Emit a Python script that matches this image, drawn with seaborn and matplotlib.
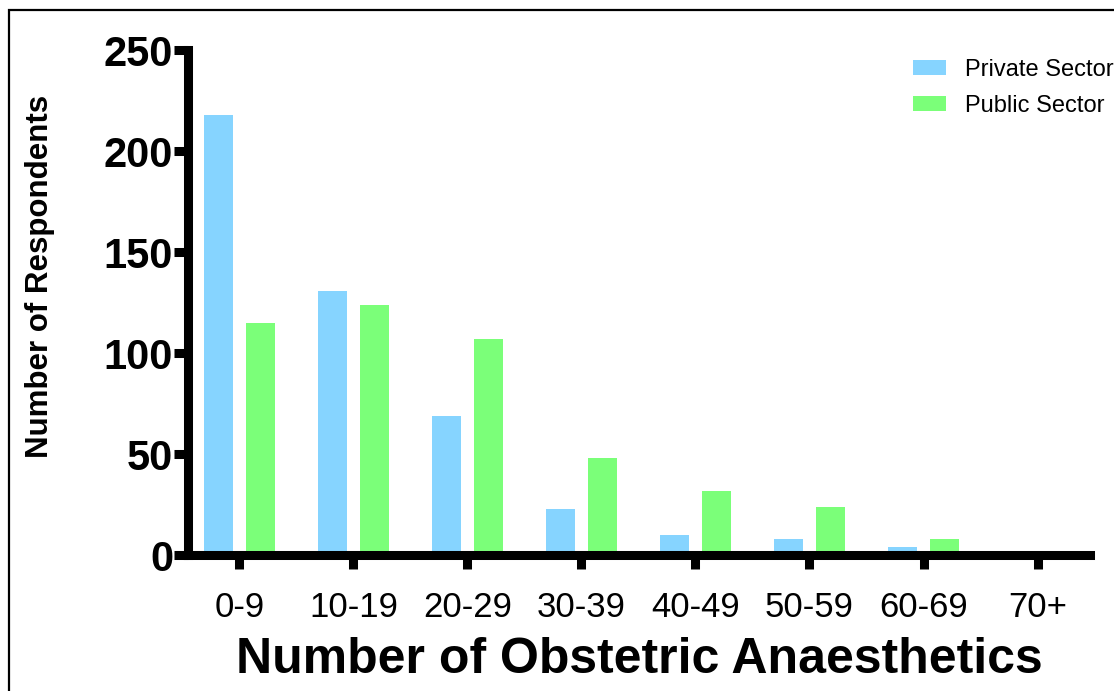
import matplotlib
matplotlib.use("Agg")
import matplotlib.pyplot as plt
import seaborn as sns
import pandas as pd
from matplotlib.patches import Rectangle

categories = ["0-9", "10-19", "20-29", "30-39", "40-49", "50-59", "60-69", "70+"]
private_sector = [218, 131, 69, 23, 10, 8, 4, 0]
public_sector = [115, 124, 107, 48, 32, 24, 8, 0]
series_names = ["Private Sector", "Public Sector"]
colors = ["#86D4FF", "#7BFF79"]
y_ticks = [0, 50, 100, 150, 200, 250]

df = pd.DataFrame({
    "Category": categories * 2,
    "Value": private_sector + public_sector,
    "Sector": [series_names[0]] * len(categories) + [series_names[1]] * len(categories),
})

sns.set_theme(style="white")
plt.rcParams["font.family"] = ["Liberation Sans", "DejaVu Sans"]
plt.rcParams["text.color"] = "black"
plt.rcParams["axes.labelcolor"] = "black"
plt.rcParams["xtick.color"] = "black"
plt.rcParams["ytick.color"] = "black"

fig = plt.figure(figsize=(11.14, 6.91), dpi=100)
W, H = 1114, 691
left, right, top, bottom = 188.3, 1090, 50.3, 555.3
ax = fig.add_axes([left / W, 1 - bottom / H, (right - left) / W, (bottom - top) / H])

sns.barplot(data=df, x="Category", y="Value", hue="Sector", order=categories,
            hue_order=series_names, palette=colors, width=0.74, gap=0.32,
            linewidth=0, saturation=1, ax=ax, legend=True)

ax.set_xlim(-0.447, 7.46)
ax.set_ylim(0, 250)
ax.set_yticks(y_ticks)
ax.set_yticklabels([str(v) for v in y_ticks], fontsize=30, fontweight="bold")
ax.set_xticks(range(len(categories)))
ax.set_xticklabels(categories, fontsize=25)

for side in ["top", "right"]:
    ax.spines[side].set_visible(False)
for side in ["left", "bottom"]:
    ax.spines[side].set_linewidth(6.5)
    ax.spines[side].set_color("black")
    ax.spines[side].set_capstyle("projecting")

ax.tick_params(axis="y", direction="out", length=10, width=6.5, color="black", pad=1, left=True)
ax.tick_params(axis="x", direction="out", length=10, width=6.5, color="black", pad=16, bottom=True)

ax.set_xlabel("Number of Obstetric Anaesthetics", fontsize=36, fontweight="bold")
ax.xaxis.set_label_coords(0.5, -0.233)
ax.xaxis.label.set_va("baseline")
ax.set_ylabel("Number of Respondents", fontsize=22.5, fontweight="bold")
ax.yaxis.set_label_coords(-0.1650, 0.552)
ax.yaxis.label.set_va("center")
ax.yaxis.label.set_ha("center")

leg = ax.legend(loc="upper left", bbox_to_anchor=(913 / W, 1 - 59 / H),
                bbox_transform=fig.transFigure, frameon=False, fontsize=17,
                handlelength=1.4, handleheight=0.6, handletextpad=0.8,
                labelspacing=0.58, borderpad=0, borderaxespad=0)

fig.patches.append(Rectangle((9 / W, -0.1), 1.2, 1.1 - 10 / H, transform=fig.transFigure,
                             fill=False, edgecolor="black", linewidth=1.6))

fig.savefig("out.png", dpi=100)
